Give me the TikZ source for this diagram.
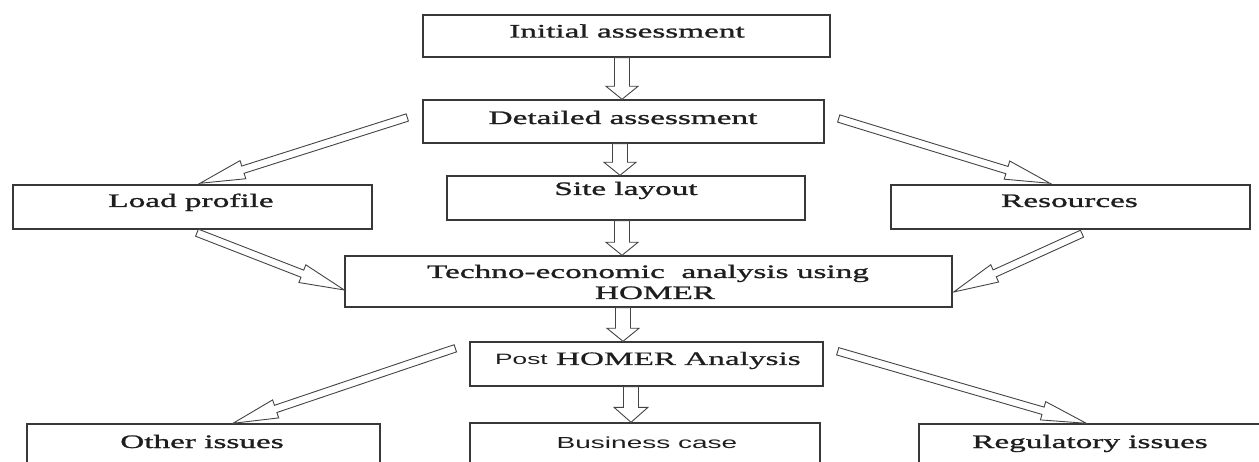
\documentclass[tikz,border=0pt]{standalone}
\usepackage{fontspec}
\setmainfont{Liberation Serif}[FakeStretch=1.75,FakeBold=1.3]
\newfontfamily\sansstretch{Liberation Sans}[FakeStretch=1.75]
\newfontfamily\serifplain{Liberation Serif}[FakeStretch=1.75,FakeBold=0.6]
\usetikzlibrary{calc}
\definecolor{boxgray}{HTML}{383838}
\definecolor{arrgray}{HTML}{444444}
\definecolor{txtgray}{HTML}{1E1E1E}
\tikzset{
  box/.style={draw=boxgray, line width=1.4pt, inner sep=0pt, fill=white},
  lbl/.style={anchor=base, inner sep=0pt, text=txtgray, font=\fontsize{19}{22}\selectfont},
  sanslbl/.style={lbl, font=\sansstretch\fontsize{16}{19}\selectfont},
  arr/.style={draw=arrgray, line width=0.9pt, fill=white, line join=miter},
}
% box: name, x1, y1, x2, y2
\newcommand\pbox[5]{\node[box, minimum width={(#4)-(#2)}, minimum height={(#5)-(#3)}] (#1) at ({((#2)+(#4))/2},{((#3)+(#5))/2}) {};}
% hollow block arrow: from, to, shaft half width, head half width, head length
\newcommand\harrow[5]{%
  \path[arr] let \p1=(#1), \p2=(#2),
    \n1={atan2(\y2-\y1,\x2-\x1)}, \n2={veclen(\x2-\x1,\y2-\y1)} in
    ([shift={(\p1)},rotate=\n1]0pt,#3pt) --
    ([shift={(\p1)},rotate=\n1]{\n2-#5pt},#3pt) --
    ([shift={(\p1)},rotate=\n1]{\n2-#5pt},#4pt) --
    ([shift={(\p1)},rotate=\n1]\n2,0pt) --
    ([shift={(\p1)},rotate=\n1]{\n2-#5pt},-#4pt) --
    ([shift={(\p1)},rotate=\n1]{\n2-#5pt},-#3pt) --
    ([shift={(\p1)},rotate=\n1]0pt,-#3pt) -- cycle;}
\begin{document}
\begin{tikzpicture}[x=1pt,y=-1pt]
\useasboundingbox (0,0) rectangle (1259,462);
\fill[white] (0,0) rectangle (1259,462);
% boxes
\pbox{init}{423}{15}{830}{57}
\pbox{det}{423}{100}{824}{143}
\pbox{load}{13}{185}{372}{229}
\pbox{site}{447}{176}{805}{220}
\pbox{res}{891}{185}{1250}{229}
\pbox{tech}{345}{256}{952}{307}
\pbox{post}{470}{342}{823}{386}
\pbox{other}{27}{424}{380}{480}
\pbox{bus}{470}{423}{820}{480}
\pbox{reg}{919}{424}{1300}{480}
% labels
\node[lbl] (t-init) at (627,37.5) {Initial assessment};
\node[lbl] (t-det) at (623,124) {Detailed assessment};
\node[lbl] (t-load) at (191,207) {Load profile};
\node[lbl] (t-site) at (626,195) {Site layout};
\node[lbl] (t-res) at (1069.5,207) {Resources};
\node[lbl] (t-tech1) at (648,278) {Techno-economic\ \ analysis using};
\node[lbl] (t-tech2) at (655,299) {HOMER};
\node[lbl] (t-post) at (648,365) {{\sansstretch\fontsize{15}{18}\selectfont Post} {\serifplain HOMER Analysis}};
\node[lbl] (t-other) at (202,448) {Other issues};
\node[sanslbl] (t-bus) at (647,448) {Business case};
\node[lbl] (t-reg) at (1090,448) {Regulatory issues};
% arrow end points
\coordinate (a1s) at ($(init.south)+(-4.5,0)$);
\coordinate (a1e) at ($(det.north)+(-1.5,0)$);
\coordinate (a2s) at ($(det.south)+(-3.5,0)$);
\coordinate (a2e) at ($(site.north)+(-6,0)$);
\coordinate (a3s) at ($(site.south)+(-4,0)$);
\coordinate (a3e) at ($(tech.north)+(-26.5,0)$);
\coordinate (a4s) at ($(tech.south)+(-25.5,0)$);
\coordinate (a4e) at ($(post.north)+(-23.5,0)$);
\coordinate (a5s) at ($(post.south)+(-15.5,0)$);
\coordinate (a5e) at ($(bus.north)+(-14,0)$);
\coordinate (d1s) at ($(det.west)+(-15,-4)$);
\coordinate (d1e) at ($(load.north)+(7.5,-1)$);
\coordinate (d2s) at ($(det.east)+(14,-3)$);
\coordinate (d2e) at ($(res.north)+(-20.5,-1)$);
\coordinate (d3s) at ($(load.south)+(4.5,3)$);
\coordinate (d3e) at ($(tech.west)+(0,8.5)$);
\coordinate (d4s) at ($(res.south)+(11.5,4)$);
\coordinate (d4e) at ($(tech.east)+(1,10.5)$);
\coordinate (d5s) at ($(post.north west)+(-14,7)$);
\coordinate (d5e) at ($(other.north)+(29.5,0)$);
\coordinate (d6s) at ($(post.north east)+(14,10)$);
\coordinate (d6e) at ($(reg.north west)+(168,0)$);
% vertical block arrows
\harrow{a1s}{a1e}{7.5}{16}{13}
\harrow{a2s}{a2e}{7.5}{16}{13}
\harrow{a3s}{a3e}{7.5}{16}{13}
\harrow{a4s}{a4e}{7.5}{16}{13}
\harrow{a5s}{a5e}{7.5}{17}{15}
% diagonal block arrows
\harrow{d1s}{d1e}{3.8}{9.5}{45}
\harrow{d2s}{d2e}{3.8}{9.5}{45}
\harrow{d3s}{d3e}{3.8}{9.5}{45}
\harrow{d4s}{d4e}{3.8}{9.5}{45}
\harrow{d5s}{d5e}{3.8}{9.5}{45}
\harrow{d6s}{d6e}{3.8}{9.5}{45}
\end{tikzpicture}
\end{document}
